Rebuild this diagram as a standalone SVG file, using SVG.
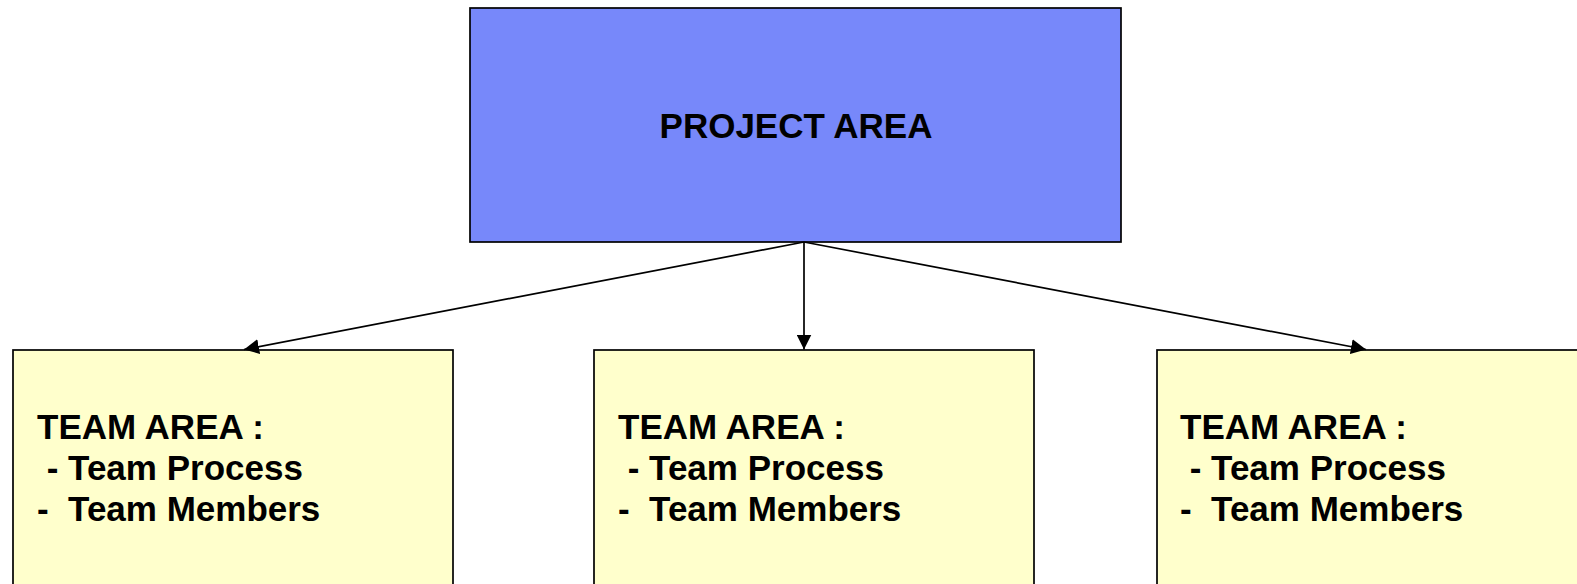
<svg xmlns="http://www.w3.org/2000/svg" width="1577" height="584" viewBox="0 0 1577 584">
  <style>
    .proj { fill: #7788FA; stroke: #000; stroke-width: 1.7; }
    .team { fill: #FFFFCC; stroke: #000; stroke-width: 1.7; }
    .t { font-family: "Liberation Sans", Arial, sans-serif; font-weight: bold; fill: #000; }
    .tt { font-size: 35px; }
    .conn { stroke: #000; stroke-width: 1.7; fill: none; marker-end: url(#arr); }
  </style>
  <defs>
    <marker id="arr" markerUnits="userSpaceOnUse" markerWidth="15" markerHeight="15" refX="15" refY="7.5" orient="auto">
      <path d="M0,0 L15,7.5 L0,15 Z" fill="#000"/>
    </marker>
  </defs>
  <rect width="1577" height="584" fill="#fff"/>
  <g id="project-area">
    <rect class="proj" x="470" y="8" width="651" height="234"/>
    <text class="t" x="796" y="138" font-size="35" text-anchor="middle">PROJECT AREA</text>
  </g>
  <g id="team-area-1">
    <rect class="team" x="13" y="350" width="440" height="250"/>
    <text class="t tt" xml:space="preserve"><tspan x="37" y="439">TEAM AREA :</tspan><tspan x="37" y="480"> - Team Process</tspan><tspan x="37" y="521">-  Team Members</tspan></text>
  </g>
  <g id="team-area-2">
    <rect class="team" x="594" y="350" width="440" height="250"/>
    <text class="t tt" xml:space="preserve"><tspan x="618" y="439">TEAM AREA :</tspan><tspan x="618" y="480"> - Team Process</tspan><tspan x="618" y="521">-  Team Members</tspan></text>
  </g>
  <g id="team-area-3">
    <rect class="team" x="1157" y="350" width="440" height="250"/>
    <text class="t tt" xml:space="preserve"><tspan x="1180" y="439">TEAM AREA :</tspan><tspan x="1180" y="480"> - Team Process</tspan><tspan x="1180" y="521">-  Team Members</tspan></text>
  </g>
  <g id="connectors">
    <line class="conn" x1="804" y1="242" x2="244" y2="349.5"/>
    <line class="conn" x1="804" y1="242" x2="804" y2="349.5"/>
    <line class="conn" x1="804" y1="242" x2="1366" y2="349.5"/>
  </g>
</svg>
